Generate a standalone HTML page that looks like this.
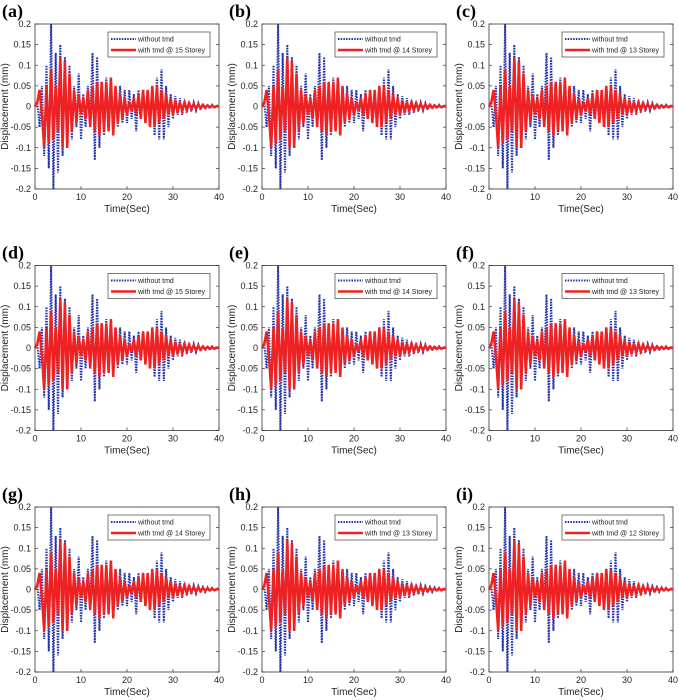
<!DOCTYPE html>
<html><head><meta charset="utf-8"><style>
body{margin:0;background:#fff;width:679px;height:700px;overflow:hidden}
svg{display:block;font-family:"Liberation Sans",sans-serif}
</style></head><body>
<svg id="fig" width="679" height="700"></svg>
<script>
const panelLabels=["(a)","(b)","(c)","(d)","(e)","(f)","(g)","(h)","(i)"];
const storeys=[15,14,13,15,14,13,14,13,12];
const yTicks=[0.2,0.15,0.1,0.05,0,-0.05,-0.1,-0.15,-0.2];
const yTickLabels=["0.2","0.15","0.1","0.05","0","-0.05","-0.1","-0.15","-0.2"];
const xTicks=[0,10,20,30,40];
const blueWithout=[0.01,-0.05,0.05,-0.12,0.1,-0.15,0.2,-0.2,0.13,-0.16,0.15,-0.12,0.12,-0.1,0.1,-0.08,0.05,-0.05,0.08,-0.08,0.03,-0.05,0.05,-0.04,0.13,-0.13,0.12,-0.1,0.06,-0.07,0.07,-0.06,0.05,-0.05,0.04,-0.05,0.05,-0.04,0.04,-0.04,0.04,-0.03,0.03,-0.06,0.04,-0.03,0.04,-0.03,0.02,-0.03,0.05,-0.07,0.07,-0.08,0.09,-0.08,0.05,-0.05,0.03,-0.03,0.025,-0.02,0.02,-0.02,0.015,-0.015,0.012,-0.012,0.01,-0.01,0.008,-0.008,0.006,-0.006,0.005,-0.005,0.004,-0.003,0.003,0];
const redWith=[0.01,0.04,-0.02,-0.1,0.05,-0.09,0.09,-0.08,0.05,-0.06,0.12,-0.1,0.11,-0.1,0.08,-0.06,0.04,-0.04,0.03,-0.02,0.02,-0.03,0.04,-0.05,0.05,-0.06,0.06,-0.07,0.06,-0.06,0.06,-0.06,0.07,-0.07,0.05,-0.04,0.03,-0.03,0.02,-0.02,0.01,-0.01,0.02,-0.02,0.03,-0.03,0.04,-0.04,0.04,-0.05,0.05,-0.05,0.05,-0.04,0.04,-0.03,0.03,-0.02,0.02,-0.02,0.015,-0.015,0.01,-0.01,0.01,-0.008,0.008,-0.006,0.006,-0.005,0.005,-0.004,0.004,-0.003,0.003,-0.002,0.002,-0.002,0.001,0];
const NS="http://www.w3.org/2000/svg";
const svg=document.getElementById('fig');
function mk(tag,attrs,parent,text){const e=document.createElementNS(NS,tag);for(const k in attrs)e.setAttribute(k,attrs[k]);if(text!==undefined)e.textContent=text;parent.appendChild(e);return e;}
const PW=184,PH=165;
panelLabels.forEach((lab,i)=>{
  const col=i%3,row=Math.floor(i/3);
  const L=35+col*227,T=24+row*241.5;
  const g=mk('g',{},svg);
  
  
  const xs=t=>L+t/40*PW, ys=v=>T+(0.2-v)/0.4*PH;
  const pl=mk('text',{x:L-33,y:T-7,'font-family':'Liberation Serif,serif','font-weight':'bold','font-size':18},g,lab);
  
  
  mk('rect',{x:L,y:T,width:PW,height:PH,fill:'#fff',stroke:'#333','stroke-width':0.8},g);
  yTicks.forEach((v,k)=>{
    mk('line',{x1:L,x2:L+3,y1:ys(v),y2:ys(v),stroke:'#333','stroke-width':0.7},g);
    mk('line',{x1:L+PW-3,x2:L+PW,y1:ys(v),y2:ys(v),stroke:'#333','stroke-width':0.7},g);
    const t=mk('text',{x:L-4,y:ys(v)+3,'font-size':9,'text-anchor':'end',fill:'#222'},g,yTickLabels[k]);
    
    
  });
  xTicks.forEach(v=>{
    mk('line',{x1:xs(v),x2:xs(v),y1:T+PH,y2:T+PH-3,stroke:'#333','stroke-width':0.7},g);
    const t=mk('text',{x:xs(v),y:T+PH+11,'font-size':9,'text-anchor':'middle',fill:'#222'},g,String(v));
    
    
  });
  const xt=mk('text',{x:L+PW/2,y:T+PH+23,'font-size':10,'text-anchor':'middle',fill:'#222'},g,'Time(Sec)');
  
  
  const yt=mk('text',{x:0,y:0,'font-size':10,'text-anchor':'middle',fill:'#222',transform:`translate(${L-27},${T+PH/2}) rotate(-90)`},g,'Displacement (mm)');
  
  
  function pathOf(arr){const dt=40/arr.length;let d=`M${xs(0)},${ys(0)}`;arr.forEach((v,k)=>{d+=` L${xs((k+1)*dt).toFixed(1)},${ys(v).toFixed(1)}`;});return d;}
  const bl=mk('path',{d:pathOf(blueWithout),fill:'none',stroke:'#2233aa','stroke-width':2,'stroke-dasharray':'1.5,1.2'},g);
  
  
  const rd=mk('path',{d:pathOf(redWith),fill:'none',stroke:'#ee2222','stroke-width':2.5},g);
  
  
  const lg=mk('g',{},g);
  
  
  mk('rect',{x:L+73,y:T+8,width:102,height:25,fill:'#fff',stroke:'#444','stroke-width':0.7},lg);
  mk('line',{x1:L+76,x2:L+101,y1:T+15,y2:T+15,stroke:'#2233aa','stroke-width':2,'stroke-dasharray':'1.5,1.2'},lg);
  mk('line',{x1:L+76,x2:L+101,y1:T+26,y2:T+26,stroke:'#ee2222','stroke-width':2.5},lg);
  const l1=mk('text',{x:L+103,y:T+17.5,'font-size':7,fill:'#222'},lg,'without tmd');
  
  
  const l2=mk('text',{x:L+103,y:T+28.5,'font-size':7,fill:'#222'},lg,'with tmd @ '+storeys[i]+' Storey');
  
  
});
</script>
</body></html>
